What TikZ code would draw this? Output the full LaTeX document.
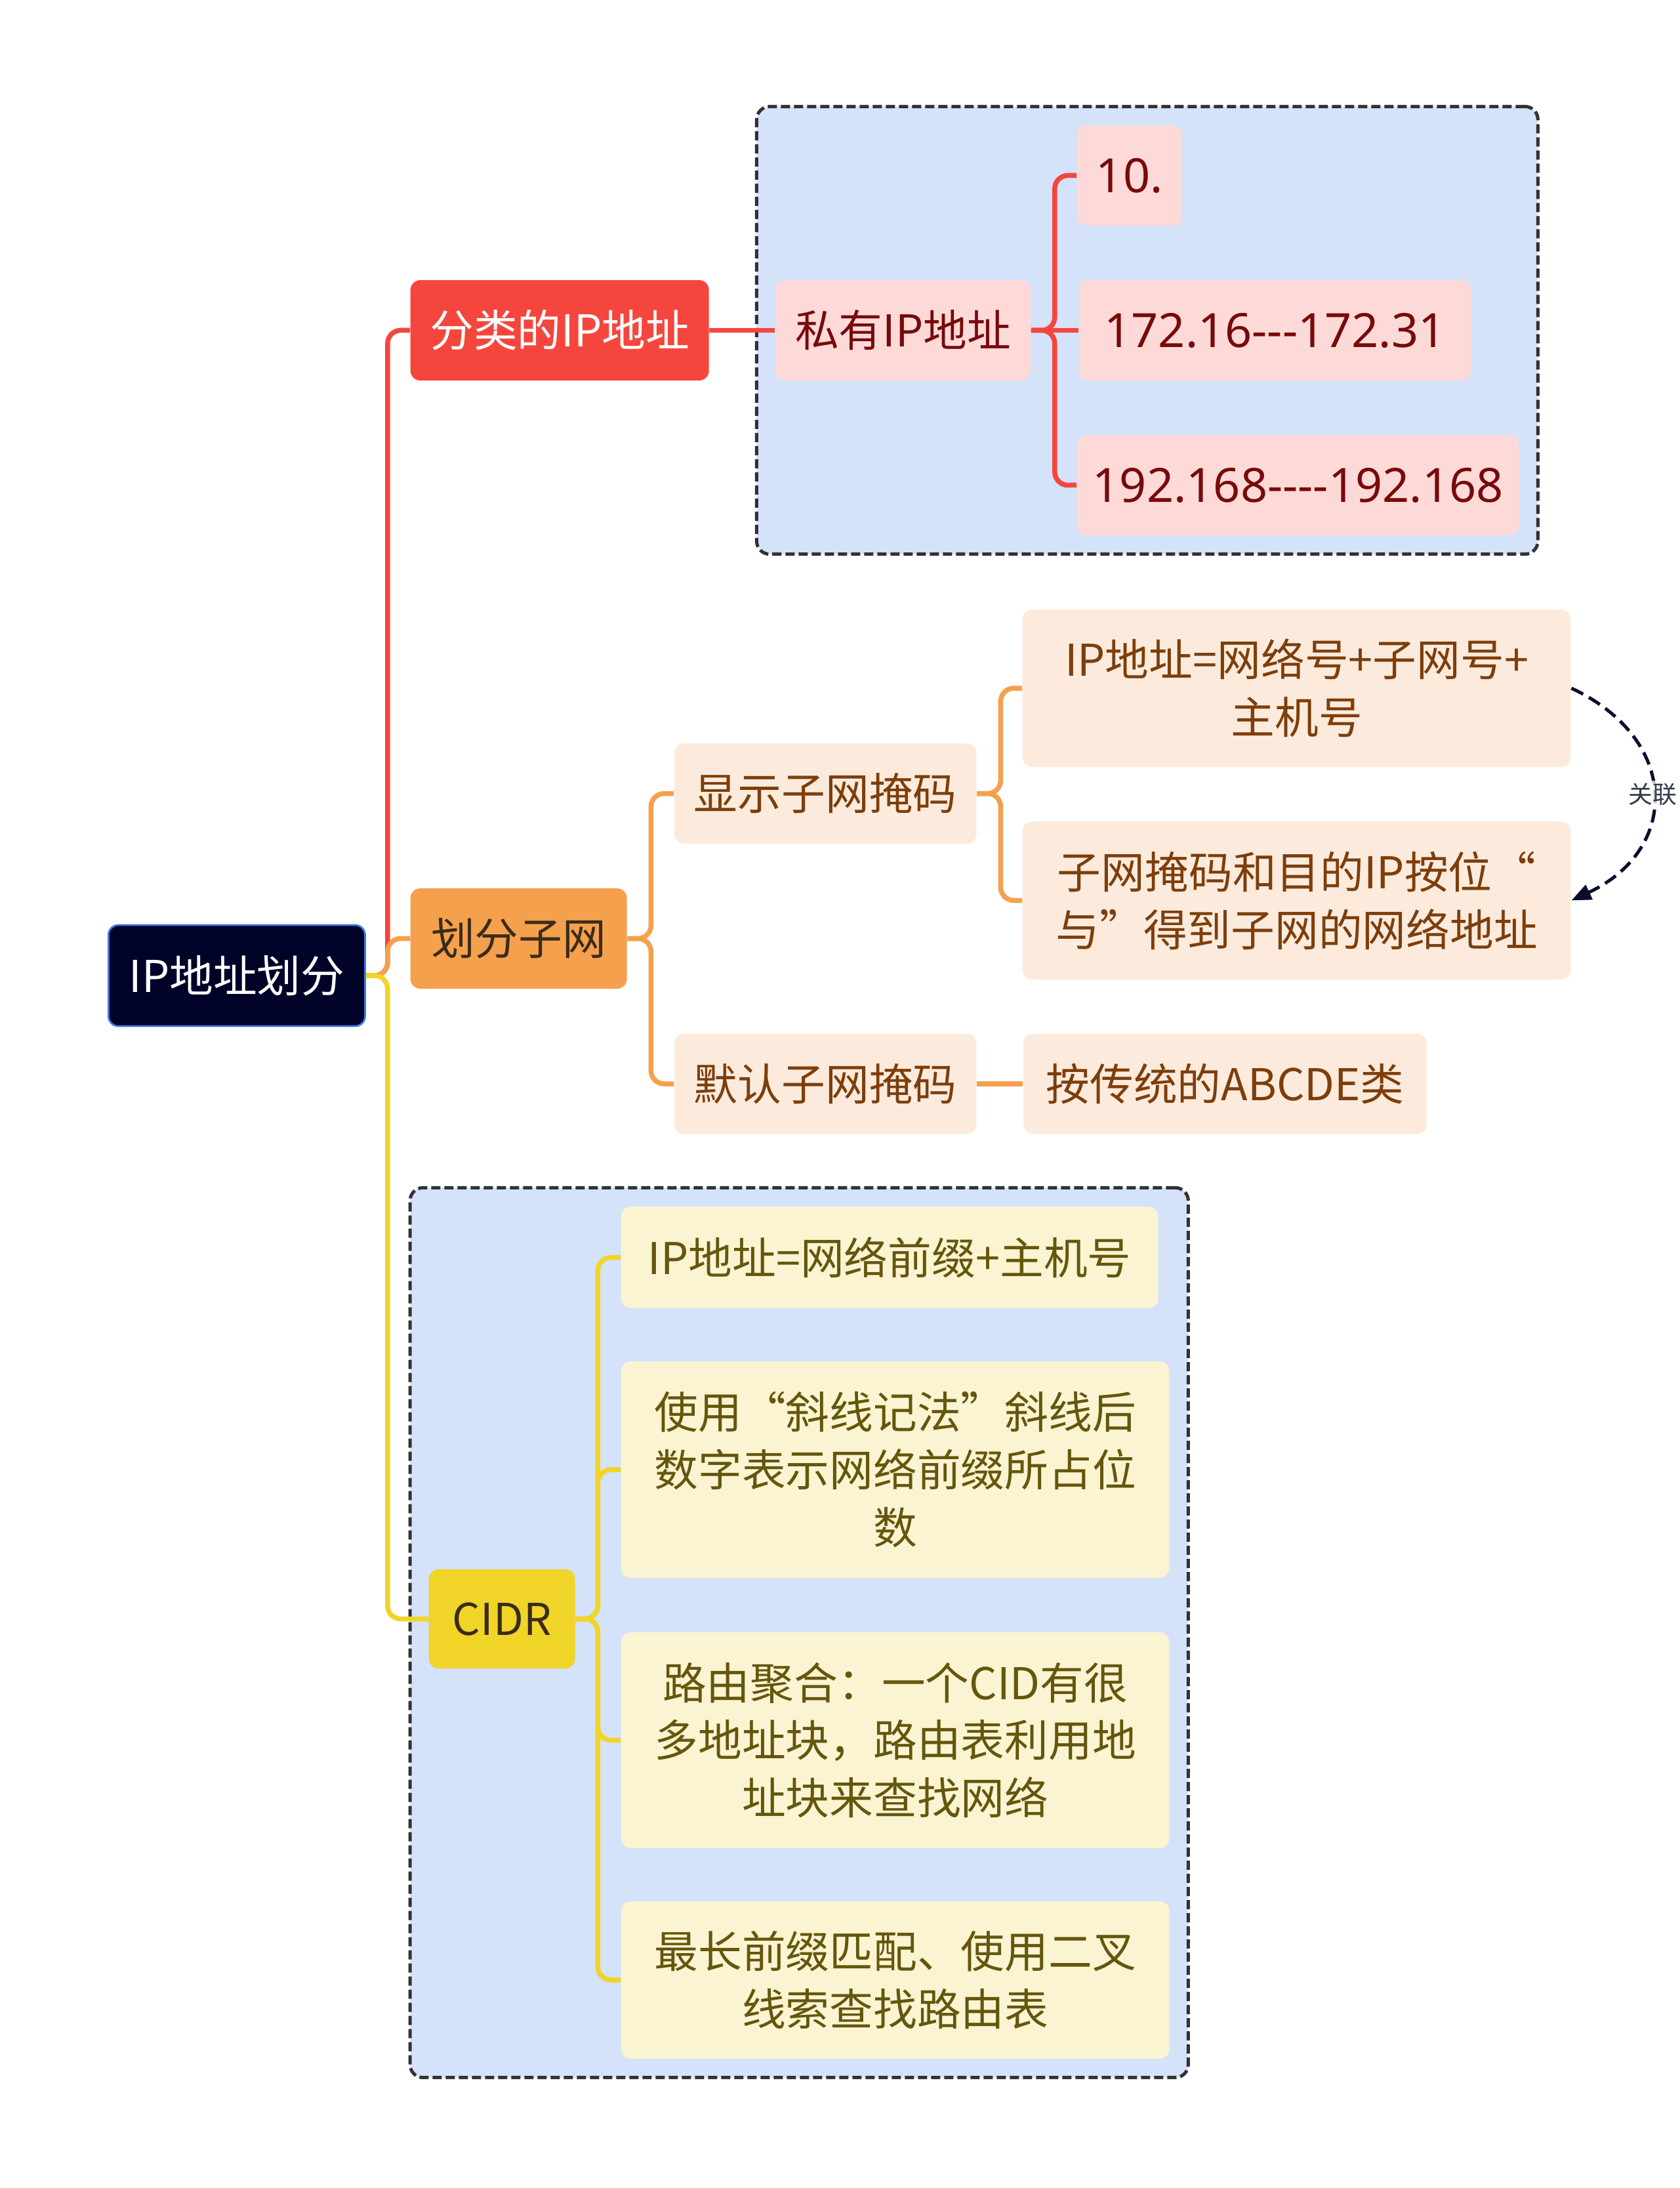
\documentclass[tikz,border=0pt]{standalone}
\usepackage{fontspec}
\newfontfamily\cjkfont{Noto Sans CJK SC}
\newfontfamily\numfont{Noto Sans}
\usetikzlibrary{positioning,fit,backgrounds,arrows.meta}
\definecolor{rootNavy}{RGB}{0, 2, 40}
\definecolor{rootBlue}{RGB}{59, 120, 224}
\definecolor{ipRed}{RGB}{245, 70, 61}
\definecolor{subOrange}{RGB}{245, 160, 77}
\definecolor{cidrYellow}{RGB}{241, 212, 40}
\definecolor{pinkLeaf}{RGB}{253, 218, 216}
\definecolor{pinkText}{RGB}{120, 10, 10}
\definecolor{peachLeaf}{RGB}{252, 235, 220}
\definecolor{peachText}{RGB}{125, 62, 12}
\definecolor{creamLeaf}{RGB}{251, 244, 210}
\definecolor{creamText}{RGB}{100, 86, 12}
\definecolor{frameBlue}{RGB}{212, 226, 250}
\definecolor{frameLine}{RGB}{50, 50, 50}
\definecolor{darkText}{RGB}{58, 44, 26}
\definecolor{relNavy}{RGB}{10, 14, 45}
\definecolor{relText}{RGB}{50, 60, 75}

\begin{document}
\begin{tikzpicture}[
    box/.style={rounded corners=0.15cm, inner sep=0pt, minimum height=1.53cm, align=center, anchor=west, font=\cjkfont\fontsize{19}{25}\selectfont},
    rootbox/.style={box, fill=rootNavy, draw=rootBlue, line width=0.8pt, text=white},
    redbox/.style={box, fill=ipRed, text=white},
    orangebox/.style={box, fill=subOrange, text=darkText},
    yellowbox/.style={box, fill=cidrYellow, text=darkText},
    pinkleaf/.style={box, fill=pinkLeaf, text=pinkText},
    numleaf/.style={pinkleaf, font=\numfont\fontsize{20.5}{25}\selectfont},
    peachleaf/.style={box, fill=peachLeaf, text=peachText},
    creamleaf/.style={box, fill=creamLeaf, text=creamText},
    frame/.style={draw=frameLine, fill=frameBlue, rounded corners=0.2cm, line width=0.05cm, dash pattern=on 0.14cm off 0.06cm, inner sep=0.28cm},
    redline/.style={draw=ipRed, line width=0.075cm, rounded corners=0.2cm},
    orangeline/.style={draw=subOrange, line width=0.075cm, rounded corners=0.2cm},
    yellowline/.style={draw=cidrYellow, line width=0.075cm, rounded corners=0.2cm},
    relline/.style={draw=relNavy, line width=0.05cm, dash pattern=on 0.2cm off 0.1cm, -{Triangle[length=0.3cm, width=0.24cm]}},
    rellabel/.style={font=\cjkfont\fontsize{10.5}{12}\selectfont, text=relText, fill=white, fill opacity=0.75, text opacity=1, inner sep=1pt}
  ]
    \useasboundingbox (0,0) rectangle (25.6,-33.35);

    \node[rootbox, minimum width=3.91cm, minimum height=1.54cm] (root) at (1.64,-14.87) {IP地址划分};
    \node[redbox, minimum width=4.55cm] (cls) at (6.25,-5.035) {分类的IP地址};
    \node[orangebox, minimum width=3.30cm] (sub) at (6.25,-14.305) {划分子网};
    \node[yellowbox, minimum width=2.23cm, minimum height=1.51cm] (cidr) at (6.53,-24.675) {CIDR};

    \node[pinkleaf, minimum width=3.89cm, right=1.0cm of cls] (priv) {私有IP地址};
    \node[numleaf, minimum width=1.60cm] (ten) at (16.41,-2.675) {10.};
    \node[numleaf, minimum width=5.98cm, right=0.72cm of priv] (r172) {172.16---172.31};
    \node[numleaf, minimum width=6.74cm] (r192) at (16.41,-7.395) {192.168----192.168};

    \node[peachleaf, minimum width=4.61cm] (show) at (10.27,-12.095) {显示子网掩码};
    \node[peachleaf, minimum width=8.36cm, minimum height=2.40cm] (eq1) at (15.58,-10.49) {IP地址=网络号+子网号+\\主机号};
    \node[peachleaf, minimum width=8.36cm, minimum height=2.41cm] (andop) at (15.58,-13.725) {子网掩码和目的IP按位“\\与”得到子网的网络地址};
    \node[peachleaf, minimum width=4.61cm] (dflt) at (10.27,-16.52) {默认子网掩码};
    \node[peachleaf, minimum width=6.15cm, right=0.70cm of dflt] (abcde) {按传统的ABCDE类};

    \node[creamleaf, minimum width=8.19cm, minimum height=1.55cm] (pre) at (9.46,-19.165) {IP地址=网络前缀+主机号};
    \node[creamleaf, minimum width=8.36cm, minimum height=3.30cm] (slash) at (9.46,-22.40) {使用“斜线记法”斜线后\\数字表示网络前缀所占位\\数};
    \node[creamleaf, minimum width=8.36cm, minimum height=3.29cm] (agg) at (9.46,-26.525) {路由聚合：一个CID有很\\多地址块，路由表利用地\\址块来查找网络};
    \node[creamleaf, minimum width=8.36cm, minimum height=2.40cm] (lpm) at (9.46,-30.18) {最长前缀匹配、使用二叉\\线索查找路由表};

    \begin{scope}[on background layer]
      \node[frame, fit=(priv)(ten)(r192)] (privframe) {};
      \node[frame, fit=(cidr)(pre)(slash)(agg)(lpm)] (cidrframe) {};
    \end{scope}

    \draw[redline] (root.east) -- ++(0.33,0) |- (cls.west);
    \draw[orangeline] (root.east) -- ++(0.33,0) |- (sub.west);
    \draw[yellowline] (root.east) -- ++(0.33,0) |- (cidr.west);

    \draw[redline] (cls) -- (priv);
    \draw[redline] (priv) -- (r172);
    \foreach \leaf in {ten,r192}
      \draw[redline] (priv.east) -- ++(0.36,0) |- (\leaf.west);

    \foreach \leaf in {show,dflt}
      \draw[orangeline] (sub.east) -- ++(0.36,0) |- (\leaf.west);
    \foreach \leaf in {eq1,andop}
      \draw[orangeline] (show.east) -- ++(0.36,0) |- (\leaf.west);
    \draw[orangeline] (dflt) -- (abcde);

    \foreach \leaf in {pre,slash,agg,lpm}
      \draw[yellowline] (cidr.east) -- ++(0.34,0) |- (\leaf.west);

    \draw[relline] (eq1.east) to[out=-25, in=25, looseness=1.45] node[rellabel] {关联} (andop.east);
  \end{tikzpicture}
\end{document}
